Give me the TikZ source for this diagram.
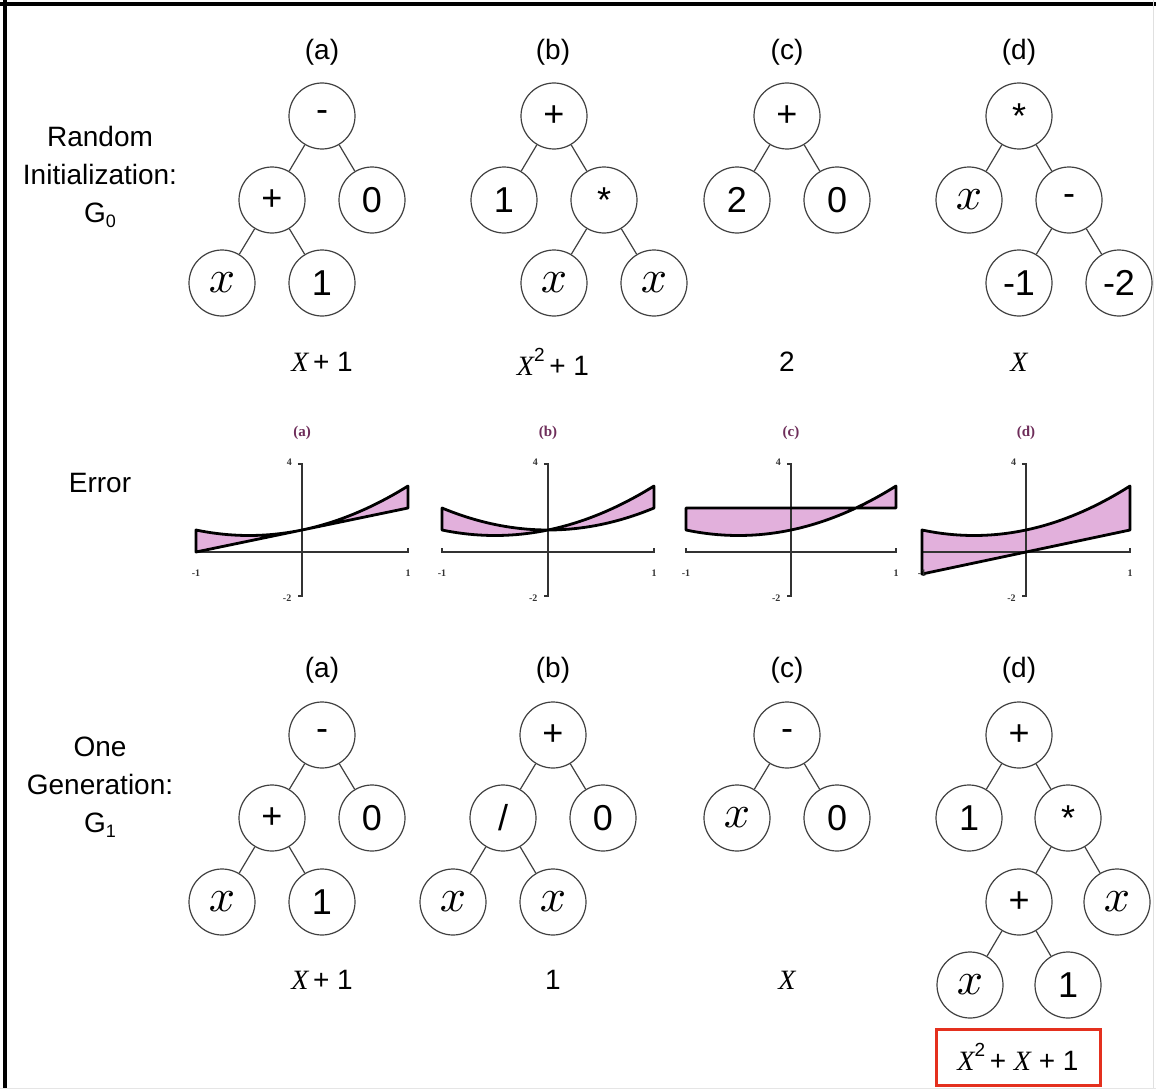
\documentclass[tikz,border=0pt]{standalone}
\usepackage{graphicx}
\usepackage{fontspec}
\setmainfont{Liberation Sans}
\newfontfamily\serifx{Liberation Serif}
\definecolor{pinkfill}{RGB}{226,176,220}
\definecolor{boxred}{RGB}{228,48,30}
\definecolor{titlecol}{RGB}{110,45,90}
\newcommand{\xv}{{\fontsize{10}{12}\selectfont\scalebox{4.6}{$x$}}}
\newcommand{\XX}{{\serifx\itshape X}}
\begin{document}
\begin{tikzpicture}[x=1pt,y=-1pt,
  tn/.style={circle, draw=black!75, line width=1.2pt, minimum size=66pt, inner sep=0pt, font=\fontsize{36}{38}\selectfont},
  edge/.style={draw=black!75, line width=1.2pt},
  lab/.style={font=\fontsize{28}{32}\selectfont, inner sep=0pt},
  side/.style={align=center, font=\fontsize{28}{38}\selectfont, inner sep=0pt},
  axis/.style={draw=black!80, line width=1.5pt},
  curve/.style={draw=black, line width=2.8pt, line join=round},
  ticklab/.style={font=\serifx\bfseries\fontsize{10}{10}\selectfont, text=black!80, inner sep=0pt},
  gtitle/.style={font=\serifx\bfseries\fontsize{15}{15}\selectfont, text=titlecol, inner sep=0pt}]
\useasboundingbox (0,0) rectangle (1156,1089);
% frame
\draw[line width=4pt] (0,4.5) -- (1156,4.5);
\draw[line width=4pt] (4.5,0) -- (4.5,1089);
\draw[black!12, line width=1pt] (1153,0) -- (1153,1089);
\draw[black!10, line width=1pt] (0,1088) -- (1156,1088);

% side labels
\node[side] (sTop) at (100,177) {Random\\Initialization:\\G\raisebox{-0.35ex}{\fontsize{18}{18}\selectfont 0}};
\node[side] (sErr) at (100,483) {Error};
\node[side] (sBot) at (100,787) {One\\Generation:\\G\raisebox{-0.35ex}{\fontsize{18}{18}\selectfont 1}};

% column labels
\foreach \n/\cx/\t in {a/322/a, b/553/b, c/787/c, d/1019/d}{
  \node[lab] (top\n) at (\cx,52) {(\t)};
  \node[lab] (bot\n) at (\cx,670) {(\t)};
}

% ---------- top trees ----------
\node[tn] (ta0) at (322,116) {-};
\node[tn] (ta1) at (272,200) {+};
\node[tn] (ta2) at (372,200) {0};
\node[tn] (ta3) at (222,283) {\xv};
\node[tn] (ta4) at (322,283) {1};
\draw[edge] (ta0) -- (ta1); \draw[edge] (ta0) -- (ta2);
\draw[edge] (ta1) -- (ta3); \draw[edge] (ta1) -- (ta4);

\node[tn] (tb0) at (554,116) {+};
\node[tn] (tb1) at (504,200) {1};
\node[tn] (tb2) at (604,200) {*};
\node[tn] (tb3) at (554,283) {\xv};
\node[tn] (tb4) at (654,283) {\xv};
\draw[edge] (tb0) -- (tb1); \draw[edge] (tb0) -- (tb2);
\draw[edge] (tb2) -- (tb3); \draw[edge] (tb2) -- (tb4);

\node[tn] (tc0) at (787,116) {+};
\node[tn] (tc1) at (737,200) {2};
\node[tn] (tc2) at (837,200) {0};
\draw[edge] (tc0) -- (tc1); \draw[edge] (tc0) -- (tc2);

\node[tn] (td0) at (1019,116) {*};
\node[tn] (td1) at (969,200) {\xv};
\node[tn] (td2) at (1069,200) {-};
\node[tn] (td3) at (1019,283) {-1};
\node[tn] (td4) at (1119,283) {-2};
\draw[edge] (td0) -- (td1); \draw[edge] (td0) -- (td2);
\draw[edge] (td2) -- (td3); \draw[edge] (td2) -- (td4);

% top formulas
\node[lab] (fa) at (322,362) {\XX\,+ 1};
\node[lab] (fb) at (553,362) {\XX\raisebox{0.5em}{\fontsize{19}{19}\selectfont 2}\,+ 1};
\node[lab] (fc) at (787,362) {2};
\node[lab] (fd) at (1019,362) {\XX};

% ---------- error graphs ----------
% (a)
\begin{scope}[shift={(302,552)}, x=106pt, y=22pt]
  \node[gtitle] (ga) at (0,5.4) {(a)};
  \fill[pinkfill] plot[domain=-1:1,samples=41] (\x,{\x*\x+\x+1}) -- plot[domain=1:-1,samples=2] (\x,{\x+1}) -- cycle;
  \draw[axis] (-1,0.18) -- (-1,0) -- (1,0) -- (1,0.18);
  \draw[axis] (-0.04,4) -- (0,4) -- (0,-2) -- (-0.04,-2);
  \draw[curve] plot[domain=-1:1,samples=41] (\x,{\x*\x+\x+1}) -- plot[domain=1:-1,samples=2] (\x,{\x+1}) -- cycle;
  \node[ticklab] at (-0.12,4.1) {4};
  \node[ticklab] at (-0.14,-2.1) {-2};
  \node[ticklab] at (-1,-0.95) {-1};
  \node[ticklab] at (1,-0.95) {1};
\end{scope}
% (b)
\begin{scope}[shift={(548,552)}, x=106pt, y=22pt]
  \node[gtitle] (gb) at (0,5.4) {(b)};
  \fill[pinkfill] plot[domain=-1:1,samples=41] (\x,{\x*\x+\x+1}) -- plot[domain=1:-1,samples=41] (\x,{\x*\x+1}) -- cycle;
  \draw[axis] (-1,0.18) -- (-1,0) -- (1,0) -- (1,0.18);
  \draw[axis] (-0.04,4) -- (0,4) -- (0,-2) -- (-0.04,-2);
  \draw[curve] plot[domain=-1:1,samples=41] (\x,{\x*\x+\x+1}) -- plot[domain=1:-1,samples=41] (\x,{\x*\x+1}) -- cycle;
  \node[ticklab] at (-0.12,4.1) {4};
  \node[ticklab] at (-0.14,-2.1) {-2};
  \node[ticklab] at (-1,-0.95) {-1};
  \node[ticklab] at (1,-0.95) {1};
\end{scope}
% (c)
\begin{scope}[shift={(791,552)}, x=105pt, y=22pt]
  \node[gtitle] (gc) at (0,5.4) {(c)};
  \fill[pinkfill] plot[domain=-1:1,samples=41] (\x,{\x*\x+\x+1}) -- (1,2) -- (-1,2) -- cycle;
  \draw[axis] (-1,0.18) -- (-1,0) -- (1,0) -- (1,0.18);
  \draw[axis] (-0.04,4) -- (0,4) -- (0,-2) -- (-0.04,-2);
  \draw[curve] plot[domain=-1:1,samples=41] (\x,{\x*\x+\x+1}) -- (1,2) -- (-1,2) -- cycle;
  \node[ticklab] at (-0.12,4.1) {4};
  \node[ticklab] at (-0.14,-2.1) {-2};
  \node[ticklab] at (-1,-0.95) {-1};
  \node[ticklab] at (1,-0.95) {1};
\end{scope}
% (d)
\begin{scope}[shift={(1026,552)}, x=104pt, y=22pt]
  \node[gtitle] (gd) at (0,5.4) {(d)};
  \fill[pinkfill] plot[domain=-1:1,samples=41] (\x,{\x*\x+\x+1}) -- (1,1) -- (-1,-1) -- cycle;
  \draw[axis] (-1,0.18) -- (-1,0) -- (1,0) -- (1,0.18);
  \draw[axis] (-0.04,4) -- (0,4) -- (0,-2) -- (-0.04,-2);
  \draw[curve] plot[domain=-1:1,samples=41] (\x,{\x*\x+\x+1}) -- (1,1) -- (-1,-1) -- cycle;
  \node[ticklab] at (-0.12,4.1) {4};
  \node[ticklab] at (-0.14,-2.1) {-2};
  \node[ticklab] at (-1,-0.95) {-1};
  \node[ticklab] at (1,-0.95) {1};
\end{scope}

% ---------- bottom trees ----------
\node[tn] (ba0) at (322,735) {-};
\node[tn] (ba1) at (272,818) {+};
\node[tn] (ba2) at (372,818) {0};
\node[tn] (ba3) at (222,902) {\xv};
\node[tn] (ba4) at (322,902) {1};
\draw[edge] (ba0) -- (ba1); \draw[edge] (ba0) -- (ba2);
\draw[edge] (ba1) -- (ba3); \draw[edge] (ba1) -- (ba4);

\node[tn] (bb0) at (553,735) {+};
\node[tn] (bb1) at (503,818) {/};
\node[tn] (bb2) at (603,818) {0};
\node[tn] (bb3) at (453,902) {\xv};
\node[tn] (bb4) at (553,902) {\xv};
\draw[edge] (bb0) -- (bb1); \draw[edge] (bb0) -- (bb2);
\draw[edge] (bb1) -- (bb3); \draw[edge] (bb1) -- (bb4);

\node[tn] (bc0) at (787,735) {-};
\node[tn] (bc1) at (737,818) {\xv};
\node[tn] (bc2) at (837,818) {0};
\draw[edge] (bc0) -- (bc1); \draw[edge] (bc0) -- (bc2);

\node[tn] (bd0) at (1019,735) {+};
\node[tn] (bd1) at (969,818) {1};
\node[tn] (bd2) at (1068,818) {*};
\node[tn] (bd3) at (1019,902) {+};
\node[tn] (bd4) at (1117,902) {\xv};
\node[tn] (bd5) at (970,985) {\xv};
\node[tn] (bd6) at (1068,985) {1};
\draw[edge] (bd0) -- (bd1); \draw[edge] (bd0) -- (bd2);
\draw[edge] (bd2) -- (bd3); \draw[edge] (bd2) -- (bd4);
\draw[edge] (bd3) -- (bd5); \draw[edge] (bd3) -- (bd6);

% bottom formulas
\node[lab] (ga1) at (322,980) {\XX\,+ 1};
\node[lab] (gb1) at (553,980) {1};
\node[lab] (gc1) at (787,980) {\XX};
\node[lab, draw=boxred, line width=3pt, minimum width=164pt, minimum height=56pt] (gd1) at (1018,1057) {\XX\raisebox{0.5em}{\fontsize{19}{19}\selectfont 2}\,+ \XX\ + 1};
\end{tikzpicture}
\end{document}
